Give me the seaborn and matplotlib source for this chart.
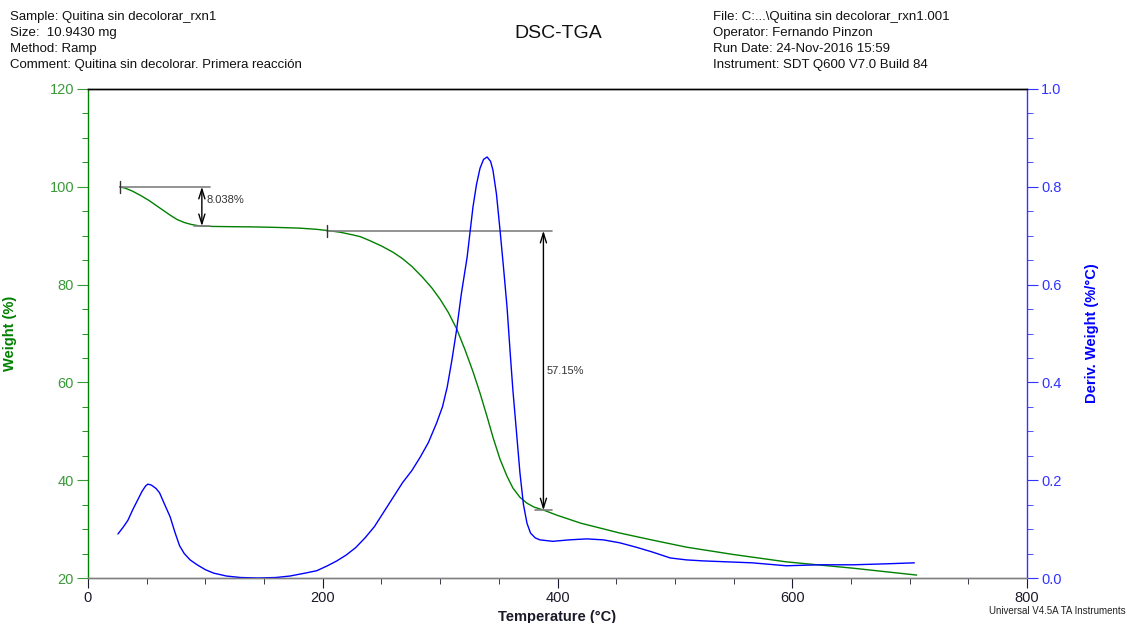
import matplotlib
matplotlib.use("Agg")
import matplotlib.pyplot as plt
import seaborn as sns
import pandas as pd

# ---- data ----
temp_w = [27, 32, 38, 45, 52, 58, 64, 70, 76, 82, 88, 95, 105, 120, 140, 160, 180,
          195, 206, 215, 225, 232, 240, 250, 260, 268, 276, 285, 293, 300, 307,
          314, 321, 328, 334, 340, 345, 351, 357, 362, 368, 374, 380, 388, 400,
          420, 453, 480, 510, 550, 595, 652, 706]
weight = [100.0, 99.7, 99.1, 98.2, 97.2, 96.2, 95.2, 94.2, 93.3, 92.7, 92.3, 92.0,
          91.9, 91.85, 91.8, 91.7, 91.55, 91.3, 91.0, 90.7, 90.2, 89.8, 89.0, 87.9,
          86.6, 85.3, 83.7, 81.5, 79.3, 77.0, 74.3, 71.0, 66.8, 62.2, 57.8, 53.0,
          48.8, 44.3, 40.8, 38.4, 36.5, 35.3, 34.5, 33.9, 32.8, 31.2, 29.2, 27.8,
          26.3, 24.8, 23.3, 22.0, 20.6]

temp_d = [25.5, 30, 34, 38, 42, 46, 49, 51, 54, 58, 61, 65, 70, 74, 78, 82, 87,
          93, 100, 107, 118, 130, 145, 160, 172, 185, 195, 204, 212, 220, 228, 236,
          244, 252, 260, 268, 276, 283, 290, 297, 302, 306, 310, 314, 318, 323,
          328, 331, 334, 337, 340, 343, 345, 348, 351, 354, 357, 360, 362, 365,
          368, 371, 374, 377, 381, 385, 396, 410, 425, 439, 453, 467, 481, 496,
          510, 524, 545, 566, 595, 623, 652, 680, 704]
deriv = [0.090, 0.104, 0.118, 0.139, 0.158, 0.177, 0.188, 0.192, 0.190, 0.183,
         0.174, 0.152, 0.125, 0.094, 0.066, 0.050, 0.037, 0.027, 0.017, 0.010,
         0.004, 0.001, 0.000, 0.001, 0.004, 0.010, 0.015, 0.025, 0.035, 0.047,
         0.062, 0.082, 0.105, 0.135, 0.165, 0.195, 0.220, 0.247, 0.277, 0.317,
         0.350, 0.390, 0.445, 0.507, 0.580, 0.656, 0.759, 0.805, 0.838, 0.856,
         0.861, 0.852, 0.834, 0.785, 0.712, 0.635, 0.554, 0.450, 0.384, 0.300,
         0.215, 0.150, 0.112, 0.092, 0.082, 0.078, 0.075, 0.078, 0.080, 0.078,
         0.072, 0.063, 0.053, 0.041, 0.037, 0.035, 0.033, 0.031, 0.025, 0.027,
         0.027, 0.029, 0.031]

# step annotations (temperature of marker, weight level)
step1_start = (27, 100.0)
step1_end = 91.96
step1_label = "8.038%"
step2_start = (204, 91.0)
step2_end = 33.85
step2_label = "57.15%"

x_ticks = [0, 200, 400, 600, 800]
w_ticks = [20, 40, 60, 80, 100, 120]
d_ticks = [0.0, 0.2, 0.4, 0.6, 0.8, 1.0]

header_left = ["Sample: Quitina sin decolorar_rxn1", "Size:  10.9430 mg",
               "Method: Ramp", "Comment: Quitina sin decolorar. Primera reacción"]
header_right = ["File: C:...\\Quitina sin decolorar_rxn1.001", "Operator: Fernando Pinzon",
                "Run Date: 24-Nov-2016 15:59", "Instrument: SDT Q600 V7.0 Build 84"]

# ---- styling ----
sns.set_style("ticks")
plt.rcParams['font.family'] = ['Liberation Sans', 'DejaVu Sans']

GREEN = "#008000"
GREEN_T = "#3a9a3a"
BLUE = "#0000ff"
BLUE_T = "#3333ff"
GRAY = "#808080"
DARK = "#1a1a2a"

fig = plt.figure(figsize=(11.29, 6.23), dpi=100)
W, H = 1129, 623
L, R, T, B = 88, 1027, 89, 578
ax = fig.add_axes([L / W, 1 - B / H, (R - L) / W, (B - T) / H])
ax2 = ax.twinx()

dfw = pd.DataFrame({"Temperature": temp_w, "Weight": weight})
dfd = pd.DataFrame({"Temperature": temp_d, "Deriv": deriv})
sns.lineplot(data=dfw, x="Temperature", y="Weight", ax=ax, color=GREEN, lw=1.0,
             sort=False, estimator=None)
sns.lineplot(data=dfd, x="Temperature", y="Deriv", ax=ax2, color=BLUE, lw=1.0,
             sort=False, estimator=None)

ax.set_xlim(0, 800)
ax.set_ylim(20, 120)
ax2.set_ylim(0, 1.0)

ax.set_xticks(x_ticks)
ax.set_xticks(range(0, 801, 50), minor=True)
ax.set_yticks(w_ticks)
ax.set_yticks(range(20, 121, 5), minor=True)
ax2.set_yticks(d_ticks)
ax2.set_yticks([i * 0.05 for i in range(21)], minor=True)
ax2.set_yticklabels([f"{v:.1f}" for v in d_ticks])

ax.tick_params(axis='x', which='major', length=7, color=DARK, labelcolor=DARK,
               labelsize=10.5, pad=2)
ax.tick_params(axis='x', which='minor', length=4, color=DARK)
ax.tick_params(axis='y', which='major', length=8, color=GREEN_T, labelcolor=GREEN_T,
               labelsize=10.5, pad=2)
ax.tick_params(axis='y', which='minor', length=4, color=GREEN)
ax2.tick_params(axis='y', which='major', length=8, color=BLUE_T, labelcolor=BLUE_T,
                labelsize=10.5, pad=2)
ax2.tick_params(axis='y', which='minor', length=4, color=BLUE_T)

for a in (ax, ax2):
    a.spines['top'].set_visible(True)
    a.spines['top'].set_color("black")
    a.spines['bottom'].set_color(GRAY)
ax.spines['left'].set_color(GREEN)
ax.spines['right'].set_visible(False)
ax2.spines['left'].set_visible(False)
ax2.spines['right'].set_visible(True)
ax2.spines['right'].set_color(BLUE_T)
for a in (ax, ax2):
    for s in a.spines.values():
        s.set_linewidth(1.0)

ax.set_xlabel("Temperature (°C)", fontsize=10.5, fontweight='bold', color=DARK)
ax.xaxis.set_label_coords(0.5, -0.066)
ax.set_ylabel("Weight (%)", fontsize=10.5, fontweight='bold', color=GREEN)
ax.yaxis.set_label_coords(-0.076, 0.5)
ax2.set_ylabel("Deriv. Weight (%/°C)", fontsize=10.5, fontweight='bold', color=BLUE)
ax2.yaxis.set_label_coords(1.062, 0.5)

# ---- step annotations ----
def step(ax, x0, y0, y1, x_arrow, x_end, label, tx, ty):
    ax.plot([x0, x_end], [y0, y0], color=GRAY, lw=1.2, zorder=3)
    ax.plot([x0, x0], [y0 - 1.2, y0 + 1.2], color="#333333", lw=1.0, zorder=3)
    ax.plot([x_arrow - 7, x_end], [y1, y1], color=GRAY, lw=1.2, zorder=3)
    ax.annotate("", xy=(x_arrow, y1), xytext=(x_arrow, y0),
                arrowprops=dict(arrowstyle="<->,head_length=0.7,head_width=0.22",
                                color="black", lw=1.0, shrinkA=0, shrinkB=0),
                zorder=4)
    ax.text(tx, ty, label, fontsize=8, color="#333333", va='center', ha='left')

step(ax, step1_start[0], step1_start[1], step1_end, 97, 104, step1_label, 101, 97.2)
step(ax, step2_start[0], step2_start[1], step2_end, 388, 395, step2_label, 391, 62.3)

# ---- header texts ----
for i, s in enumerate(header_left):
    fig.text(10 / W, 1 - (17 + 16 * i) / H, s, fontsize=9.5, va='center', ha='left',
             color="#111111")
for i, s in enumerate(header_right):
    fig.text(713 / W, 1 - (17 + 16 * i) / H, s, fontsize=9.5, va='center', ha='left',
             color="#111111")
fig.text(558 / W, 1 - 33 / H, "DSC-TGA", fontsize=14, va='center', ha='center',
         color="#111111")
fig.text(1126 / W, 1 - 611 / H, "Universal V4.5A TA Instruments", fontsize=7,
         va='center', ha='right', color="#222222")

fig.savefig("out.png", dpi=100)
